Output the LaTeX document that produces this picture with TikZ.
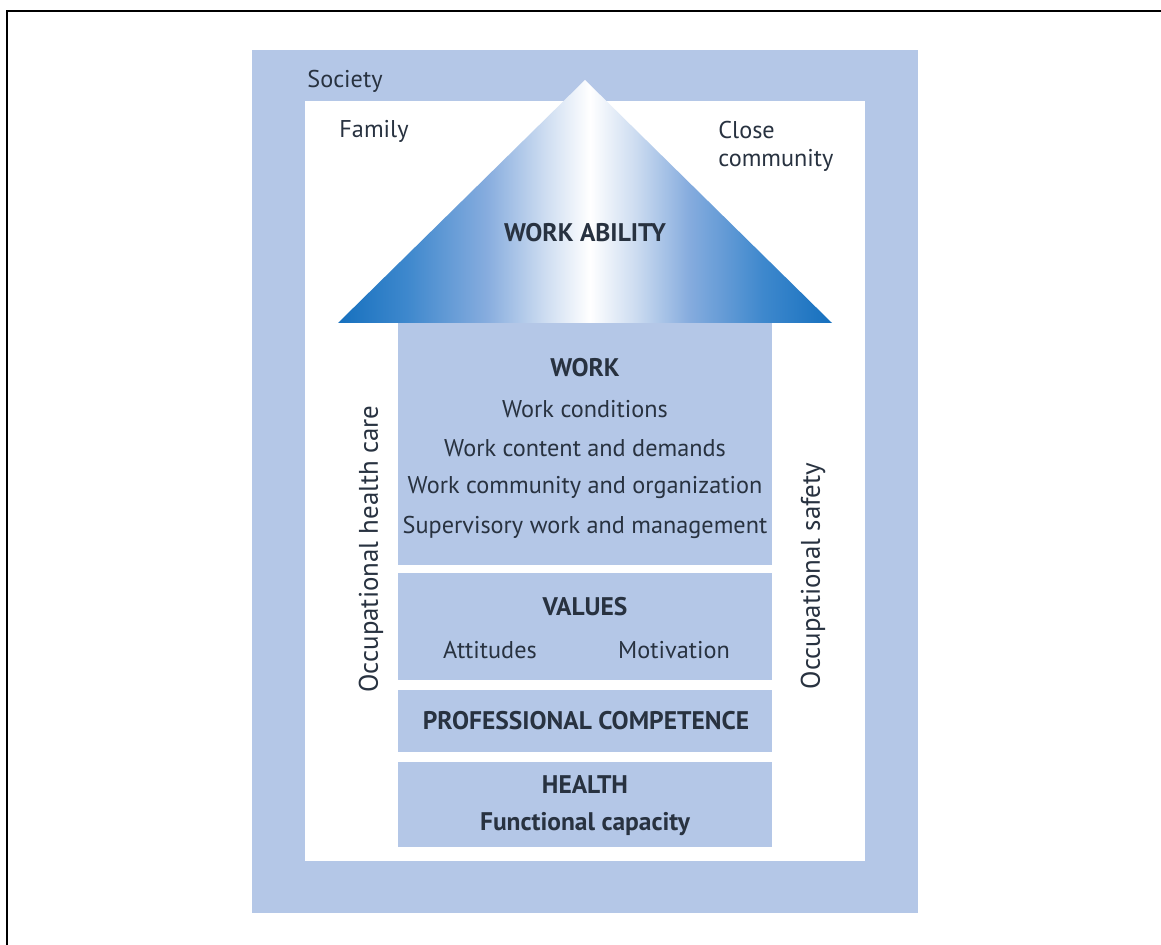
\documentclass[tikz,border=0pt]{standalone}
\usepackage{fontspec}
\setmainfont{PT Sans}
\definecolor{band}{RGB}{180,199,231}
\definecolor{txt}{RGB}{40,50,64}
\definecolor{tridark}{RGB}{22,112,190}
\definecolor{trimid}{RGB}{62,136,205}
\definecolor{trilight}{RGB}{134,172,222}
\definecolor{tripale}{RGB}{206,221,241}
\pgfdeclarehorizontalshading{wa}{100bp}{color(0bp)=(tridark); color(25bp)=(tridark); color(32bp)=(trimid); color(40bp)=(trilight); color(46bp)=(tripale); color(50.5bp)=(white); color(55bp)=(tripale); color(60.5bp)=(trilight); color(68bp)=(trimid); color(75bp)=(tridark); color(100bp)=(tridark)}
\begin{document}
\begin{tikzpicture}[x=0.02cm,y=-0.02cm,
  lbl/.style={text=txt,font=\fontsize{13.8}{16}\selectfont,inner sep=0pt},
  hd/.style={lbl,font=\fontsize{14.5}{16}\selectfont\bfseries},
  side/.style={lbl,font=\fontsize{15.3}{17}\selectfont,rotate=90},
  box/.style={fill=band,draw=none,minimum width=7.48cm,inner sep=0pt}]
\useasboundingbox (0,0) rectangle (1161,945);
\fill[white] (0,0) rectangle (1161,945);
% frame
\coordinate (fbl) at (7,945);
\coordinate (ftl) at (7,11);
\coordinate (ftr) at (1161,11);
\draw[line width=0.045cm] (fbl) -- (ftl) -- (ftr);
% society band
\fill[band] (252,50) rectangle (918,913);
\fill[white] (305,101) rectangle (865,861);
% stack boxes
\node[box,minimum height=4.84cm] (work) at (585,444) {};
\node[box,minimum height=2.14cm] (values) at (585,626.5) {};
\node[box,minimum height=1.24cm] (prof) at (585,721) {};
\node[box,minimum height=1.70cm] (health) at (585,804.5) {};
% roof
\coordinate (apex) at (585,80);
\coordinate (bl) at (338,323);
\coordinate (br) at (832,323);
\shade[shading=wa] (apex) -- (br) -- (bl) -- cycle;
% labels
\node[lbl] (society) at (345,81) {Society};
\node[lbl] (family) at (374,131) {Family};
\node[lbl,align=left,anchor=north west] (close) at (718,121) {Close\\community};
\node[hd] (wa) at (585,233) {WORK ABILITY};
\node[hd] (workh) at (585,368) {WORK};
\node[lbl] (w1) at (585,409) {Work conditions};
\node[lbl] (w2) at (585,448) {Work content and demands};
\node[lbl] (w3) at (585,487) {Work community and organization};
\node[lbl] (w4) at (585,527) {Supervisory work and management};
\node[hd] (valh) at (585,607) {VALUES};
\node[lbl] (att) at (490,650) {Attitudes};
\node[lbl] (mot) at (674,650) {Motivation};
\node[hd] (profh) at (586,721) {PROFESSIONAL COMPETENCE};
\node[hd] (healthh) at (585,785) {HEALTH};
\node[hd] (func) at (585,824) {Functional capacity};
\node[side] (ohc) at (371,549) {Occupational health care};
\node[side] (os) at (813,576) {Occupational safety};
\end{tikzpicture}
\end{document}
